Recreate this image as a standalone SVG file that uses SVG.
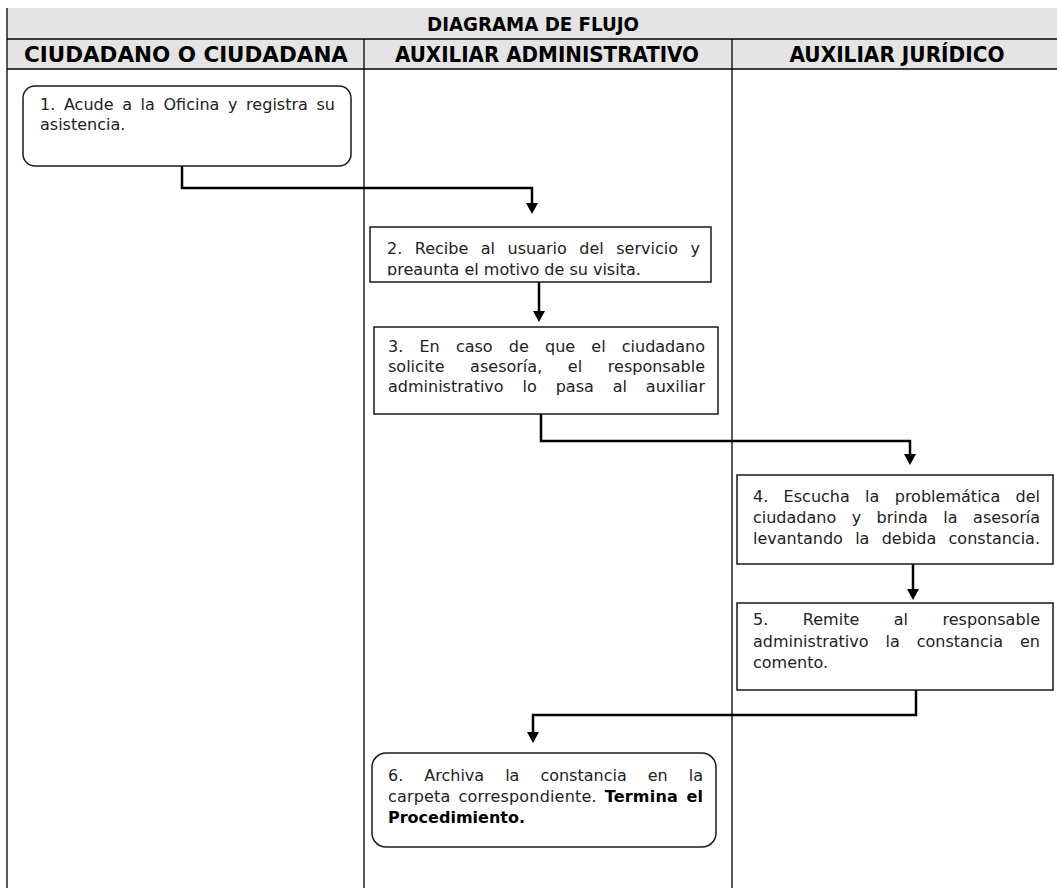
<svg xmlns="http://www.w3.org/2000/svg" width="1057" height="888" viewBox="0 0 1057 888">
<style>
.lane{stroke:#000;stroke-width:1.3;fill:none}
.hdr{font-family:"DejaVu Sans Condensed","DejaVu Sans",sans-serif;font-weight:bold;fill:#000;text-anchor:middle}
.box{fill:#fff;stroke:#1a1a1a;stroke-width:1.5}
.t{font-family:"DejaVu Sans","Liberation Sans",sans-serif;font-size:16px;fill:#222}
.b{font-weight:bold;fill:#000}
.con{fill:none;stroke:#000;stroke-width:2.5;marker-end:url(#arr)}
</style>
<defs>
<marker id="arr" markerUnits="userSpaceOnUse" markerWidth="11" markerHeight="12" viewBox="0 0 11 12" refX="6" refY="6" orient="auto">
<path d="M0,0 L11,6 L0,12 Z" fill="#000"/>
</marker>
<clipPath id="clip2"><rect x="370" y="227" width="341" height="48.5"/></clipPath>
</defs>
<rect width="1057" height="888" fill="#fff"/>
<g id="header">
<rect x="7" y="8" width="1050" height="61" fill="#e4e4e4"/>
<line class="lane" x1="7" y1="39" x2="1057" y2="39"/>
<line class="lane" x1="7" y1="69" x2="1057" y2="69"/>
<text class="hdr" x="533" y="31" font-size="20" textLength="212" lengthAdjust="spacingAndGlyphs">DIAGRAMA DE FLUJO</text>
<text class="hdr" x="186" y="62" font-size="22" textLength="324" lengthAdjust="spacingAndGlyphs">CIUDADANO O CIUDADANA</text>
<text class="hdr" x="547" y="62" font-size="22" textLength="304" lengthAdjust="spacingAndGlyphs">AUXILIAR ADMINISTRATIVO</text>
<text class="hdr" x="897" y="62" font-size="22" textLength="215" lengthAdjust="spacingAndGlyphs">AUXILIAR JURÍDICO</text>
</g>
<g id="lanes">
<line class="lane" x1="7" y1="8" x2="7" y2="888"/>
<line class="lane" x1="364" y1="39" x2="364" y2="888"/>
<line class="lane" x1="732" y1="39" x2="732" y2="888"/>
</g>
<g id="connectors">
<path class="con" d="M182,160 V188 H532 V209"/>
<path class="con" d="M539,282 V317"/>
<path class="con" d="M541,414 V441 H910 V460"/>
<path class="con" d="M913,564 V595"/>
<path class="con" d="M916,690 V715 H533 V738"/>
</g>
<g id="n1">
<rect class="box" x="23" y="86" width="328" height="80" rx="12"/>
<text class="t" x="40" y="110" word-spacing="3.5" textLength="295" lengthAdjust="spacing">1. Acude a la Oficina y registra su</text>
<text class="t" x="40" y="130">asistencia.</text>
</g>
<g id="n2">
<rect class="box" x="370" y="227" width="341" height="55"/>
<g clip-path="url(#clip2)">
<text class="t" x="387" y="254" word-spacing="7.3" textLength="313" lengthAdjust="spacing">2. Recibe al usuario del servicio y</text>
<text class="t" x="387" y="274.5">preaunta el motivo de su visita.</text>
</g>
</g>
<g id="n3">
<rect class="box" x="374" y="327" width="344" height="87"/>
<text class="t" x="388" y="352" word-spacing="11.1" textLength="317" lengthAdjust="spacing">3. En caso de que el ciudadano</text>
<text class="t" x="388" y="372" word-spacing="20.5" textLength="317" lengthAdjust="spacing">solicite asesoría, el responsable</text>
<text class="t" x="388" y="392" word-spacing="13.8" textLength="317" lengthAdjust="spacing">administrativo lo pasa al auxiliar</text>
</g>
<g id="n4">
<rect class="box" x="737" y="475" width="316" height="89"/>
<text class="t" x="753" y="502" word-spacing="10.2" textLength="287" lengthAdjust="spacing">4. Escucha la problemática del</text>
<text class="t" x="753" y="523" word-spacing="10.4" textLength="287" lengthAdjust="spacing">ciudadano y brinda la asesoría</text>
<text class="t" x="753" y="544" word-spacing="7.2" textLength="287" lengthAdjust="spacing">levantando la debida constancia.</text>
</g>
<g id="n5">
<rect class="box" x="737" y="603" width="316" height="87"/>
<text class="t" x="753" y="625" word-spacing="29.2" textLength="287" lengthAdjust="spacing">5. Remite al responsable</text>
<text class="t" x="753" y="647" word-spacing="11.9" textLength="287" lengthAdjust="spacing">administrativo la constancia en</text>
<text class="t" x="753" y="668">comento.</text>
</g>
<g id="n6">
<rect class="box" x="372" y="753" width="344" height="94" rx="14"/>
<text class="t" x="388" y="781" word-spacing="15.9" textLength="315" lengthAdjust="spacing">6. Archiva la constancia en la</text>
<text class="t" x="388" y="802" word-spacing="2.8" textLength="315" lengthAdjust="spacing">carpeta correspondiente. <tspan class="b">Termina el</tspan></text>
<text class="t b" x="388" y="823">Procedimiento.</text>
</g>
</svg>
